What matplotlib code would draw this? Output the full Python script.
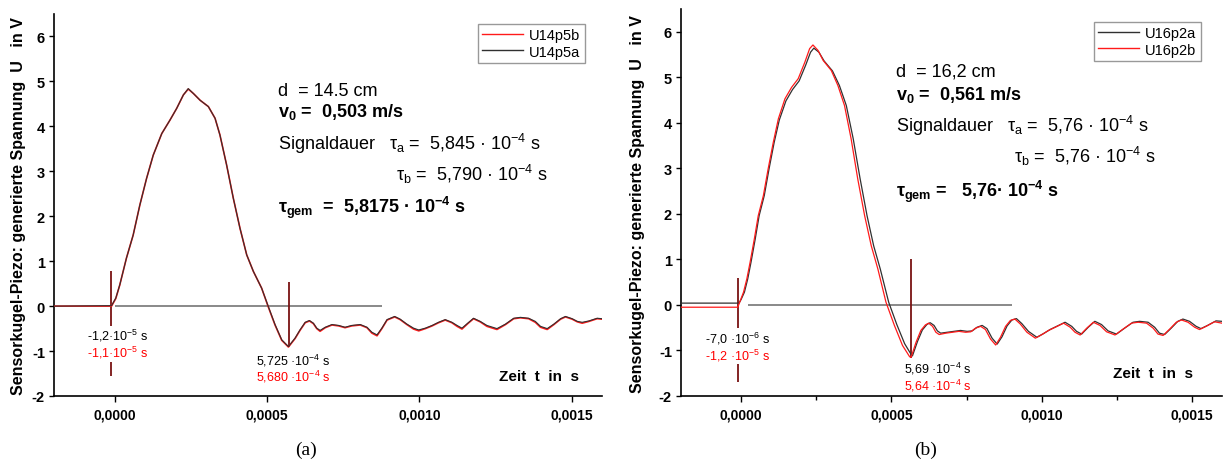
import numpy as np
import matplotlib
matplotlib.use("Agg")
import matplotlib.pyplot as plt
from matplotlib.lines import Line2D

plt.rcParams['font.family'] = ['Liberation Sans', 'DejaVu Sans']
plt.rcParams['mathtext.default'] = 'regular'
plt.rcParams['axes.unicode_minus'] = False

# ---------------- data (time in microseconds, voltage in V) ----------------
t14_us = [-200, -11, 3, 16, 27, 38, 60, 82, 104, 126,
          154, 181, 203, 225, 241, 258, 280, 307, 329, 345,
          367, 389, 411, 433, 455, 482, 504, 526, 548, 570,
          592, 608, 625, 639, 652, 663, 674, 691, 713, 735,
          756, 778, 806, 828, 844, 861, 877, 894, 919, 937,
          959, 981, 998, 1020, 1042, 1063, 1085, 1107, 1124, 1140,
          1159, 1178, 1200, 1222, 1255, 1283, 1310, 1332, 1359, 1381,
          1398, 1420, 1442, 1464, 1480, 1502, 1519, 1535, 1557, 1584,
          1600]
u14p5a = [0.00, 0.01, 0.18, 0.47, 0.77, 1.07, 1.58, 2.25, 2.84, 3.36,
          3.84, 4.14, 4.40, 4.70, 4.84, 4.73, 4.58, 4.44, 4.18, 3.81,
          3.14, 2.40, 1.73, 1.14, 0.77, 0.40, -0.01, -0.41, -0.75, -0.90,
          -0.71, -0.53, -0.36, -0.32, -0.38, -0.49, -0.54, -0.47, -0.41, -0.43,
          -0.47, -0.43, -0.41, -0.47, -0.58, -0.64, -0.49, -0.30, -0.23, -0.29,
          -0.40, -0.49, -0.53, -0.49, -0.43, -0.36, -0.30, -0.36, -0.43, -0.49,
          -0.38, -0.27, -0.34, -0.43, -0.50, -0.40, -0.27, -0.25, -0.27, -0.34,
          -0.45, -0.50, -0.40, -0.28, -0.23, -0.28, -0.34, -0.36, -0.33, -0.27,
          -0.28]
u14p5b = [0.00, 0.00, 0.17, 0.47, 0.77, 1.07, 1.58, 2.25, 2.84, 3.36,
          3.84, 4.14, 4.40, 4.70, 4.83, 4.73, 4.58, 4.44, 4.18, 3.81,
          3.14, 2.40, 1.73, 1.14, 0.77, 0.40, -0.02, -0.42, -0.76, -0.91,
          -0.72, -0.54, -0.37, -0.33, -0.39, -0.50, -0.56, -0.48, -0.42, -0.44,
          -0.48, -0.44, -0.42, -0.48, -0.60, -0.66, -0.50, -0.31, -0.24, -0.30,
          -0.41, -0.51, -0.55, -0.50, -0.44, -0.37, -0.31, -0.37, -0.45, -0.51,
          -0.39, -0.28, -0.35, -0.45, -0.52, -0.41, -0.28, -0.26, -0.28, -0.36,
          -0.47, -0.52, -0.41, -0.29, -0.24, -0.29, -0.35, -0.38, -0.34, -0.28,
          -0.29]

t16a_us = [-200, -7, 0, 11, 22, 33, 47, 60, 77, 93,
           110, 127, 149, 171, 193, 215, 231, 242, 259, 276,
           304, 327, 350, 373, 396, 419, 441, 463, 491, 518,
           544, 565, 570, 587, 603, 618, 629, 642, 653, 664,
           686, 708, 730, 752, 769, 785, 802, 818, 835, 852,
           868, 885, 901, 916, 934, 956, 984, 1006, 1028, 1050,
           1078, 1100, 1116, 1133, 1155, 1177, 1199, 1221, 1249, 1276,
           1304, 1326, 1354, 1376, 1392, 1409, 1431, 1453, 1470, 1492,
           1514, 1530, 1552, 1580, 1600]
u16p2a = [0.04, 0.04, 0.12, 0.28, 0.57, 0.94, 1.45, 1.96, 2.40, 2.99,
          3.57, 4.06, 4.48, 4.73, 4.92, 5.27, 5.55, 5.64, 5.55, 5.36,
          5.14, 4.82, 4.38, 3.65, 2.77, 1.96, 1.30, 0.79, 0.06, -0.43,
          -0.85, -1.08, -1.12, -0.80, -0.55, -0.43, -0.39, -0.45, -0.57, -0.62,
          -0.60, -0.58, -0.56, -0.58, -0.57, -0.49, -0.45, -0.52, -0.73, -0.86,
          -0.70, -0.46, -0.33, -0.30, -0.41, -0.58, -0.71, -0.63, -0.54, -0.47,
          -0.38, -0.47, -0.58, -0.64, -0.49, -0.36, -0.43, -0.57, -0.64, -0.51,
          -0.38, -0.36, -0.38, -0.49, -0.62, -0.65, -0.51, -0.36, -0.31, -0.36,
          -0.47, -0.52, -0.45, -0.35, -0.36]

t16b_us = [-200, -11, -3, 8, 19, 30, 44, 57, 74, 90,
           107, 124, 146, 168, 190, 212, 228, 239, 256, 273,
           300, 322, 344, 366, 388, 411, 433, 455, 482, 510,
           537, 560, 565, 582, 598, 613, 624, 637, 648, 659,
           681, 703, 725, 747, 764, 780, 797, 813, 830, 847,
           863, 880, 896, 911, 929, 951, 979, 1001, 1023, 1045,
           1073, 1095, 1111, 1128, 1150, 1172, 1194, 1216, 1244, 1271,
           1299, 1321, 1349, 1371, 1387, 1404, 1426, 1448, 1465, 1487,
           1509, 1525, 1547, 1575, 1600]
u16p2b = [-0.05, -0.05, 0.09, 0.28, 0.57, 0.94, 1.45, 1.96, 2.40, 2.99,
          3.57, 4.09, 4.53, 4.78, 4.97, 5.33, 5.63, 5.71, 5.59, 5.37,
          5.15, 4.82, 4.38, 3.65, 2.77, 1.96, 1.30, 0.79, 0.06, -0.45,
          -0.89, -1.13, -1.16, -0.82, -0.56, -0.44, -0.40, -0.47, -0.60, -0.65,
          -0.62, -0.60, -0.58, -0.60, -0.59, -0.51, -0.47, -0.54, -0.75, -0.88,
          -0.71, -0.47, -0.34, -0.31, -0.42, -0.60, -0.73, -0.65, -0.56, -0.49,
          -0.40, -0.49, -0.60, -0.66, -0.51, -0.38, -0.45, -0.59, -0.66, -0.53,
          -0.40, -0.38, -0.40, -0.51, -0.64, -0.67, -0.53, -0.38, -0.33, -0.38,
          -0.49, -0.54, -0.47, -0.37, -0.40]

# reference lines: (t_start, t_end) of the zero line, and marker lines (t, U_low, U_high)
zero_line_a = (0.0, 8.78e-4)
zero_line_b = (2.3e-5, 9.0e-4)
markers_a = [(-1.2e-5, -1.55, 0.78), (5.725e-4, -0.90, 0.53)]
markers_b = [(-1.0e-5, -1.70, 0.60), (5.66e-4, -1.23, 1.00)]

xticks = [0.0, 0.0005, 0.0010, 0.0015]
xtick_labels = ["0,0000", "0,0005", "0,0010", "0,0015"]
yticks = [-2, -1, 0, 1, 2, 3, 4, 5, 6]
ytick_labels = ["-2", "-1", "0", "1", "2", "3", "4", "5", "6"]

BLACK = '#303030'
RED = '#ff1a1a'
MARK = '#7a1212'

W, H = 1223, 464
fig = plt.figure(figsize=(W / 100, H / 100), dpi=100)


def fx(px):
    return px / W


def fy(py):
    return 1 - py / H


axA = fig.add_axes([fx(54), fy(397), (602 - 54) / W, (397 - 15) / H])
axB = fig.add_axes([fx(681), fy(397), (1222 - 681) / W, (397 - 10) / H])

for ax in (axA, axB):
    ax.set_xlim(-0.0002, 0.0016)
    ax.set_ylim(-2, 6.5)
    ax.spines['top'].set_visible(False)
    ax.spines['right'].set_visible(False)
    ax.spines['left'].set_linewidth(1.2)
    ax.spines['bottom'].set_linewidth(1.2)
    ax.set_xticks(xticks)
    ax.set_xticklabels(xtick_labels, fontsize=10, fontweight='bold')
    ax.set_yticks(yticks)
    ax.set_yticklabels(ytick_labels, fontsize=10.5, fontweight='bold')
    ax.tick_params(axis='x', which='major', direction='out', length=4.5, width=1, pad=3.5)
    ax.tick_params(axis='y', which='major', direction='out', length=3.5, width=1, pad=3)
    ax.patch.set_alpha(0)

axB.set_xticks([0.00025, 0.00075, 0.00125], minor=True)
axB.tick_params(axis='x', which='minor', direction='out', length=3, width=1)

t14 = np.array(t14_us) * 1e-6
t16a = np.array(t16a_us) * 1e-6
t16b = np.array(t16b_us) * 1e-6

# ---------------- panel (a) ----------------
axA.hlines(0, *zero_line_a, color='#808080', lw=1.3, zorder=1)
for tm, lo, hi in markers_a:
    axA.vlines(tm, lo, hi, color=MARK, lw=1.3, zorder=2)
axA.plot(t14, u14p5b, color=RED, lw=1.2, zorder=3)
axA.plot(t14, u14p5a, color=BLACK, lw=0.8, zorder=4)

txt = dict(fontsize=13, ha='left', va='baseline')
axA.text(5.37e-4, 4.69, "d  = 14.5 cm", **txt)
axA.text(5.37e-4, 4.22, "v$_0$ =  0,503 m/s", fontweight='bold', **txt)
axA.text(5.37e-4, 3.50, "Signaldauer   τ$_a$ =  5,845 · 10$^{-4}$ s", **txt)
axA.text(9.23e-4, 2.81, "τ$_b$ =  5,790 · 10$^{-4}$ s", **txt)
axA.text(5.37e-4, 2.10, "τ$_{gem}$  =  5,8175 · 10$^{-4}$ s", fontweight='bold', **txt)

small = dict(fontsize=9, ha='left', va='baseline', zorder=5,
             bbox=dict(facecolor='white', edgecolor='none', pad=1.0))
axA.text(-9.1e-5, -0.75, "-1,2·10$^{-5}$ s", color='black', **small)
axA.text(-9.1e-5, -1.13, "-1,1·10$^{-5}$ s", color='red', **small)
axA.text(4.63e-4, -1.30, "5,725 ·10$^{-4}$ s", color='black', **small)
axA.text(4.63e-4, -1.66, "5,680 ·10$^{-4}$ s", color='red', **small)
axA.text(1.261e-3, -1.65, "Zeit  t  in  s", fontsize=11, fontweight='bold',
         ha='left', va='baseline')

leg_kw = dict(loc='upper right', bbox_transform=fig.transFigure,
              fontsize=10.5, frameon=True, fancybox=False, borderpad=0.3,
              labelspacing=0.15, handlelength=2.8, handletextpad=0.45,
              borderaxespad=0)

hA = [Line2D([], [], color=RED, lw=1), Line2D([], [], color=BLACK, lw=1)]
legA = axA.legend(hA, ["U14p5b", "U14p5a"], bbox_to_anchor=(fx(585), fy(25)), **leg_kw)
legA.get_frame().set_edgecolor('#808080')
legA.get_frame().set_linewidth(1.0)

# ---------------- panel (b) ----------------
axB.hlines(0, *zero_line_b, color='#808080', lw=1.3, zorder=1)
for tm, lo, hi in markers_b:
    axB.vlines(tm, lo, hi, color=MARK, lw=1.3, zorder=2)
axB.plot(t16a, u16p2a, color=BLACK, lw=0.9, zorder=3)
axB.plot(t16b, u16p2b, color=RED, lw=0.9, zorder=4)

axB.text(5.15e-4, 5.04, "d  = 16,2 cm", **txt)
axB.text(5.15e-4, 4.53, "v$_0$ =  0,561 m/s", fontweight='bold', **txt)
axB.text(5.15e-4, 3.83, "Signaldauer   τ$_a$ =  5,76 · 10$^{-4}$ s", **txt)
axB.text(9.07e-4, 3.14, "τ$_b$ =  5,76 · 10$^{-4}$ s", **txt)
axB.text(5.15e-4, 2.40, "τ$_{gem}$ =   5,76· 10$^{-4}$ s", fontweight='bold', **txt)

axB.text(-1.21e-4, -0.82, "-7,0 ·10$^{-6}$ s", color='black', **small)
axB.text(-1.21e-4, -1.19, "-1,2 ·10$^{-5}$ s", color='red', **small)
axB.text(5.43e-4, -1.48, "5,69 ·10$^{-4}$ s", color='black', **small)
axB.text(5.43e-4, -1.85, "5,64 ·10$^{-4}$ s", color='red', **small)
axB.text(1.238e-3, -1.58, "Zeit  t  in  s", fontsize=11, fontweight='bold',
         ha='left', va='baseline')

hB = [Line2D([], [], color=BLACK, lw=1), Line2D([], [], color=RED, lw=1)]
legB = axB.legend(hB, ["U16p2a", "U16p2b"], bbox_to_anchor=(fx(1201), fy(23)), **leg_kw)
legB.get_frame().set_edgecolor('#808080')
legB.get_frame().set_linewidth(1.0)

# ---------------- axis labels & captions ----------------
ylabel = "Sensorkugel-Piezo: generierte Spannung  U   in V"
fig.text(fx(19), fy(206), ylabel, rotation=90, ha='center', va='center',
         fontsize=11.5, fontweight='bold')
fig.text(fx(637.5), fy(204), ylabel, rotation=90, ha='center', va='center',
         fontsize=11.5, fontweight='bold')
fig.text(fx(306), fy(450), "(a)", ha='center', va='center', fontsize=14,
         family=['Liberation Serif', 'DejaVu Serif'])
fig.text(fx(926), fy(450), "(b)", ha='center', va='center', fontsize=14,
         family=['Liberation Serif', 'DejaVu Serif'])

fig.savefig("out.png", dpi=100)
